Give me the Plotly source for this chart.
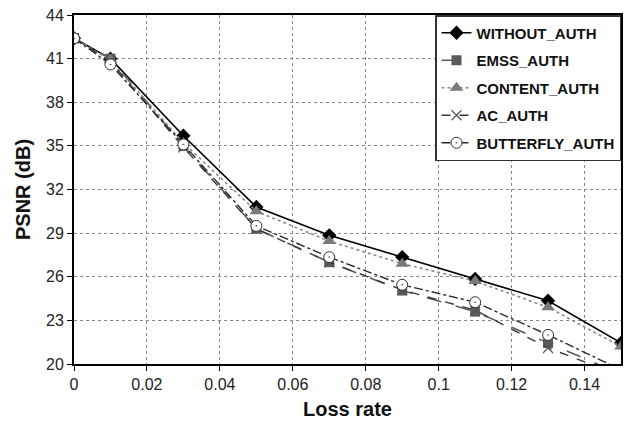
import plotly.graph_objects as go

loss_rate = [0, 0.01, 0.03, 0.05, 0.07, 0.09, 0.11, 0.13, 0.15]

without_auth = [42.4, 41.0, 35.7, 30.8, 28.85, 27.35, 25.85, 24.35, 21.45]
emss_auth = [42.4, 41.0, 35.0, 29.3, 27.0, 25.05, 23.6, 21.45, 19.3]
content_auth = [42.4, 40.9, 35.2, 30.5, 28.45, 26.9, 25.7, 23.9, 21.2]
ac_auth = [42.4, 40.8, 34.9, 29.3, 27.0, 25.1, 23.7, 21.1, 19.2]
butterfly_auth = [42.4, 40.6, 35.1, 29.5, 27.35, 25.45, 24.25, 22.0, 19.6]

series = [
    ("WITHOUT_AUTH", without_auth, dict(color="black", width=1.6, dash="solid"),
     dict(symbol="diamond", size=11, color="black")),
    ("EMSS_AUTH", emss_auth, dict(color="#5a5a5a", width=1.6, dash="longdash"),
     dict(symbol="square", size=10, color="#5a5a5a")),
    ("CONTENT_AUTH", content_auth, dict(color="#8a8a8a", width=1.6, dash="dot"),
     dict(symbol="triangle-up", size=12, color="#7a7a7a")),
    ("AC_AUTH", ac_auth, dict(color="#3a3a3a", width=1.4, dash="dash"),
     dict(symbol="x-thin-open", size=10, color="#555555", line=dict(width=1.2, color="#555555"))),
    ("BUTTERFLY_AUTH", butterfly_auth, dict(color="#2a2a2a", width=1.4, dash="dashdot"),
     dict(symbol="circle-dot", size=11, color="white", line=dict(width=1, color="#333333"))),
]

fig = go.Figure()
for name, vals, line, marker in series:
    fig.add_trace(go.Scatter(
        x=loss_rate, y=vals, name=name, mode="lines+markers",
        line=line, marker=marker, legendgroup=name, cliponaxis=True,
    ))

grid = dict(showgrid=True, gridcolor="#888888", griddash="dot", gridwidth=1)
arial = "Arial, Liberation Sans, sans-serif"

fig.update_layout(
    width=628, height=423,
    margin=dict(l=74, r=5, t=15, b=59),
    paper_bgcolor="white", plot_bgcolor="white",
    font=dict(family=arial, color="#222222"),
    legend=dict(
        x=1, y=1, xanchor="right", yanchor="top",
        bgcolor="white", bordercolor="#333333", borderwidth=1.5,
        font=dict(size=15, family=arial, color="#111111", weight="bold"),
        tracegroupgap=5, itemwidth=30,
    ),
    xaxis=dict(
        range=[0, 0.15], tick0=0, dtick=0.02, **grid,
        showline=True, linecolor="black", linewidth=2, mirror=True,
        ticks="outside", ticklen=5, tickcolor="black",
        tickfont=dict(size=16, color="#222222"), zeroline=False,
        title=dict(text="<b>Loss rate</b>", font=dict(size=20, color="#111111"), standoff=10),
    ),
    yaxis=dict(
        range=[20, 44], tick0=20, dtick=3, **grid,
        showline=True, linecolor="black", linewidth=2, mirror=True,
        ticks="outside", ticklen=5, tickcolor="black",
        tickfont=dict(size=16, color="#222222"), zeroline=False,
        title=dict(text="<b>PSNR (dB)</b>", font=dict(size=20, color="#111111"), standoff=10),
    ),
)

fig.write_html("out.html")
